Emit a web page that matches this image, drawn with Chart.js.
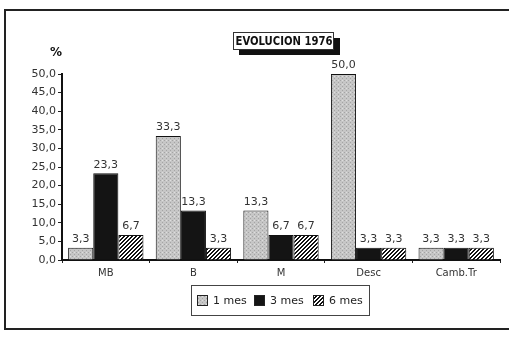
<!DOCTYPE html>
<html><head><meta charset="utf-8">
<script src="https://cdn.jsdelivr.net/npm/chart.js@4.4.0/dist/chart.umd.min.js"></script>
<style>html,body{margin:0;padding:0;background:#fff}#wrap{width:509px;height:341px;position:relative}</style>
</head><body><div id="wrap"><canvas id="c" width="509" height="341"></canvas></div>
<script>
const categories = ["MB", "B", "M", "Desc", "Camb.Tr"];
const seriesNames = ["1 mes", "3 mes", "6 mes"];
const mes1 = [3.3, 33.3, 13.3, 50.0, 3.3];
const mes3 = [23.3, 13.3, 6.7, 3.3, 3.3];
const mes6 = [6.7, 3.3, 6.7, 3.3, 3.3];
const yTicks = [0, 5, 10, 15, 20, 25, 30, 35, 40, 45, 50];
const chartTitle = "EVOLUCION 1976";
const yUnit = "%";

function fmt(v){ return v.toFixed(1).replace('.', ','); }

function makePattern(kind){
  const p = document.createElement('canvas');
  const ctx = p.getContext('2d');
  if (kind === 'dots') {
    p.width = 4; p.height = 4;
    ctx.fillStyle = '#c6c6c6'; ctx.fillRect(0,0,4,4);
    ctx.fillStyle = '#a4a4a4'; ctx.fillRect(0,0,1,1); ctx.fillRect(2,2,1,1);
    ctx.fillStyle = '#dedede'; ctx.fillRect(2,0,1,1);
  } else if (kind === 'hatch') {
    p.width = 4; p.height = 4;
    ctx.fillStyle = '#fff'; ctx.fillRect(0,0,4,4);
    ctx.fillStyle = '#111';
    for (let i=0;i<4;i++){ ctx.fillRect(i,3-i,1,1); ctx.fillRect((i+1)%4,3-i,1,1); }
  }
  return document.getElementById('c').getContext('2d').createPattern(p, 'repeat');
}

const fills = [makePattern('dots'), '#141414', makePattern('hatch')];
const FONT = '"DejaVu Sans", sans-serif';
const CFONT = '"DejaVu Sans Condensed", "Liberation Sans Narrow", "DejaVu Sans", sans-serif';

const decor = {
  id: 'decor',
  afterDraw(chart){
    const ctx = chart.ctx;
    ctx.save();
    // outer frame
    ctx.strokeStyle = '#222'; ctx.lineWidth = 2;
    ctx.beginPath();
    ctx.moveTo(509, 10); ctx.lineTo(5, 10); ctx.lineTo(5, 329); ctx.lineTo(509, 329);
    ctx.stroke();
    // title box with shadow
    ctx.fillStyle = '#111'; ctx.fillRect(239, 38, 101, 17);
    ctx.fillStyle = '#fff'; ctx.fillRect(233, 32, 101, 18);
    ctx.strokeStyle = '#333'; ctx.lineWidth = 1; ctx.strokeRect(233.5, 32.5, 100, 17);
    ctx.fillStyle = '#111'; ctx.font = 'bold 12px ' + CFONT;
    ctx.textAlign = 'center'; ctx.textBaseline = 'middle';
    ctx.fillText(chartTitle, 284, 42, 97);
    // unit label
    ctx.font = 'bold 12px ' + FONT;
    ctx.fillText(yUnit, 56, 53);
    // data labels
    ctx.font = '11px ' + FONT; ctx.fillStyle = '#333';
    ctx.textBaseline = 'bottom';
    chart.data.datasets.forEach((ds, i) => {
      chart.getDatasetMeta(i).data.forEach((bar, j) => {
        ctx.fillText(fmt(ds.data[j]), bar.x, bar.y - 3);
      });
    });
    // legend
    const lx = 191, ly = 285, lw = 178, lh = 30;
    ctx.fillStyle = '#fff'; ctx.fillRect(lx, ly, lw, lh);
    ctx.strokeStyle = '#444'; ctx.lineWidth = 1; ctx.strokeRect(lx+0.5, ly+0.5, lw, lh);
    const items = [[197, 213], [254, 270], [313, 329]];
    ctx.textAlign = 'left'; ctx.textBaseline = 'middle'; ctx.font = '11px ' + FONT;
    chart.data.datasets.forEach((ds, i) => {
      ctx.fillStyle = ds.backgroundColor; ctx.fillRect(items[i][0], ly+10, 10, 10);
      ctx.strokeStyle = '#222'; ctx.strokeRect(items[i][0]+0.5, ly+10.5, 10, 10);
      ctx.fillStyle = '#222'; ctx.fillText(ds.label, items[i][1], ly+16);
    });
    ctx.restore();
  }
};

new Chart(document.getElementById('c'), {
  type: 'bar',
  data: {
    labels: categories,
    datasets: [
      {label: seriesNames[0], data: mes1, backgroundColor: fills[0]},
      {label: seriesNames[1], data: mes3, backgroundColor: fills[1]},
      {label: seriesNames[2], data: mes6, backgroundColor: fills[2]}
    ].map(d => Object.assign(d, {borderColor: '#111', borderWidth: 1, categoryPercentage: 0.86, barPercentage: 1.0}))
  },
  options: {
    responsive: false, animation: false,
    layout: {padding: {left: 0, top: 74, right: 9, bottom: 51}},
    plugins: {legend: {display: false}, title: {display: false}, tooltip: {enabled: false}},
    scales: {
      x: {
        afterFit(s){ s.height = 30; },
        grid: {display: true, drawOnChartArea: false, drawTicks: true, tickLength: 3, offset: true, color: '#222'},
        border: {display: true, color: '#111', width: 2},
        ticks: {color: '#333', font: {family: FONT, size: 10}, padding: 4}
      },
      y: {
        min: 0, max: 50,
        afterFit(s){ s.width = 62; },
        afterBuildTicks(s){ s.ticks = yTicks.map(v => ({value: v})); },
        grid: {display: true, drawOnChartArea: false, drawTicks: true, tickLength: 4, color: '#222'},
        border: {display: true, color: '#111', width: 2},
        ticks: {color: '#333', font: {family: FONT, size: 11}, padding: 2, callback: v => fmt(v)}
      }
    }
  },
  plugins: [decor]
});
</script></body></html>
